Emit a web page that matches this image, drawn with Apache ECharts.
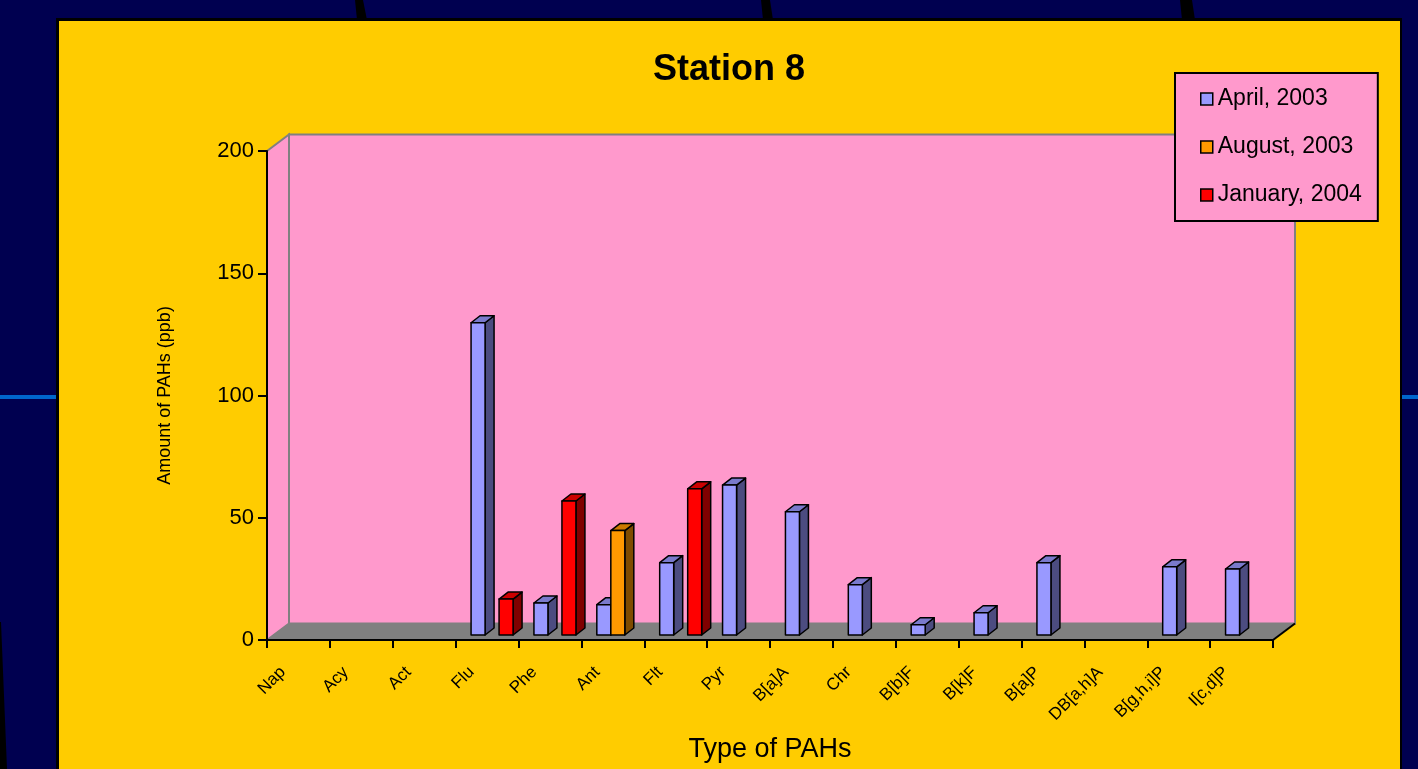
<!DOCTYPE html>
<html>
<head>
<meta charset="utf-8">
<title>Station 8</title>
<script src="https://cdn.jsdelivr.net/npm/echarts@6/dist/echarts.min.js"></script>
<style>
  html, body { margin: 0; padding: 0; background: #000050; }
  #chart { width: 1418px; height: 769px; }
</style>
</head>
<body>
<div id="chart"></div>
<script>
// PAH types on the category axis
const categories = ['Nap', 'Acy', 'Act', 'Flu', 'Phe', 'Ant', 'Flt', 'Pyr', 'B[a]A', 'Chr',
  'B[b]F', 'B[k]F', 'B[a]P', 'DB[a,h]A', 'B[g,h,i]P', 'I[c,d]P'];

// Amount of PAHs (ppb) per sampling campaign; null = not detected
const april2003 = [null, null, null, 127.7, 13.1, 12.4, 29.6, 61.3, 50.4, 20.6, 4.2, 9.1, 29.6, null, 27.9, 27.0];
const august2003 = [null, null, null, null, null, 42.7, null, null, null, null, null, null, null, null, null, null];
const january2004 = [null, null, null, 14.7, 54.8, null, 59.8, null, null, null, null, null, null, null, null, null];

const yTicks = { min: 0, max: 200, interval: 50 };

const FONT = "'Liberation Sans', Arial, sans-serif";

// depth of the back wall relative to the front plane
const WALL_DX = 22, WALL_DY = -16.5;
// bar geometry
const BAR_W = 14, BAR_DX = 9, BAR_DY = -7, BAR_BASE_SHIFT = -5;
const SLOT_OFFSETS = [-9, 5, 19];

const seriesDefs = [
  { name: 'April, 2003', values: april2003, front: '#9999FF', side: '#4C4C80', top: '#7A7ACC' },
  { name: 'August, 2003', values: august2003, front: '#FF9900', side: '#7F4C00', top: '#CC7A00' },
  { name: 'January, 2004', values: january2004, front: '#FF0000', side: '#800000', top: '#CC0000' }
];

function toPairs(arr) {
  const out = [];
  arr.forEach((v, i) => { if (v !== null) out.push([i, v]); });
  return out;
}

function renderWalls(params, api) {
  const cs = params.coordSys;
  const l = cs.x, r = cs.x + cs.width, t = cs.y, b = cs.y + cs.height;
  const dx = WALL_DX, dy = WALL_DY;
  return {
    type: 'group',
    children: [
      { type: 'rect', shape: { x: l + dx, y: t + dy, width: r - l, height: b - t },
        style: { fill: '#FF99CC', stroke: '#808080', lineWidth: 2 } },
      { type: 'polygon', shape: { points: [[l, t], [l + dx, t + dy], [l + dx, b + dy], [l, b]] },
        style: { fill: '#FF99CC', stroke: '#808080', lineWidth: 2 } },
      { type: 'polygon', shape: { points: [[l, b], [l + dx, b + dy], [r + dx, b + dy], [r, b]] },
        style: { fill: '#808080' } },
      { type: 'line', shape: { x1: r, y1: b, x2: r + dx, y2: b + dy },
        style: { stroke: '#000', lineWidth: 2 } }
    ]
  };
}

function makeBarRenderer(idx) {
  const def = seriesDefs[idx];
  return function (params, api) {
    const cat = api.value(0), val = api.value(1);
    if (isNaN(val)) return null;
    const pTop = api.coord([cat, val]);
    const pBot = api.coord([cat, 0]);
    const xc = pTop[0] + SLOT_OFFSETS[idx];
    const xl = xc - BAR_W / 2, xr = xc + BAR_W / 2;
    const yt = pTop[1] + BAR_BASE_SHIFT, yb = pBot[1] + BAR_BASE_SHIFT;
    const line = { stroke: '#000', lineWidth: 1.5, lineJoin: 'round' };
    return {
      type: 'group',
      children: [
        { type: 'polygon', shape: { points: [[xr, yt], [xr + BAR_DX, yt + BAR_DY], [xr + BAR_DX, yb + BAR_DY], [xr, yb]] },
          style: Object.assign({ fill: def.side }, line) },
        { type: 'polygon', shape: { points: [[xl, yt], [xl + BAR_DX, yt + BAR_DY], [xr + BAR_DX, yt + BAR_DY], [xr, yt]] },
          style: Object.assign({ fill: def.top }, line) },
        { type: 'rect', shape: { x: xl, y: yt, width: BAR_W, height: yb - yt },
          style: Object.assign({ fill: def.front }, line) }
      ]
    };
  };
}

const chart = echarts.init(document.getElementById('chart'), null, { renderer: 'canvas' });

const option = {
  backgroundColor: '#000050',
  animation: false,
  textStyle: { fontFamily: FONT },
  graphic: {
    elements: [
      // slide decorations
      { type: 'rect', z: -10, shape: { x: 0, y: 395, width: 1418, height: 4 }, style: { fill: '#0066CC' } },
      { type: 'polygon', z: -10, shape: { points: [[355, 0], [363, 0], [367, 20], [357, 20]] }, style: { fill: '#000' } },
      { type: 'polygon', z: -10, shape: { points: [[761, 0], [770, 0], [773, 20], [763, 20]] }, style: { fill: '#000' } },
      { type: 'polygon', z: -10, shape: { points: [[1180, 0], [1192, 0], [1195, 20], [1182, 20]] }, style: { fill: '#000' } },
      { type: 'polygon', z: -10, shape: { points: [[0, 622], [1, 622], [7, 769], [0, 769]] }, style: { fill: '#000' } },
      // chart panel
      { type: 'rect', z: -9, shape: { x: 56, y: 18, width: 1346, height: 760 }, style: { fill: '#000' } },
      { type: 'rect', z: -8, shape: { x: 59, y: 21, width: 1341, height: 760 }, style: { fill: '#FFCC00' } }
    ]
  },
  title: {
    text: 'Station 8',
    left: 653,
    top: 52,
    padding: 0,
    textStyle: { fontSize: 36, fontWeight: 'bold', color: '#000', fontFamily: FONT }
  },
  legend: {
    orient: 'vertical',
    left: 1175,
    top: 73,
    padding: [14, 16, 14, 25],
    itemGap: 24,
    itemWidth: 12,
    itemHeight: 12,
    icon: 'rect',
    backgroundColor: '#FF99CC',
    borderColor: '#000',
    borderWidth: 2,
    borderRadius: 0,
    itemStyle: { borderColor: '#000', borderWidth: 1.5 },
    textStyle: { fontSize: 23, color: '#000', lineHeight: 24, fontFamily: FONT },
    data: seriesDefs.map(d => d.name)
  },
  grid: { left: 267, top: 151, width: 1006, height: 489 },
  xAxis: {
    type: 'category',
    data: categories,
    z: 10,
    name: 'Type of PAHs',
    nameLocation: 'middle',
    nameGap: 96,
    nameTextStyle: { fontSize: 27, color: '#000', fontFamily: FONT },
    axisLine: { lineStyle: { color: '#000', width: 2 } },
    axisTick: { show: true, length: 8, interval: 0, lineStyle: { color: '#000', width: 2 } },
    axisLabel: { interval: 0, rotate: 45, fontSize: 17, color: '#000', margin: 14, padding: [0, 22, 0, 0], fontFamily: FONT },
    splitLine: { show: false }
  },
  yAxis: {
    type: 'value',
    min: yTicks.min,
    max: yTicks.max,
    interval: yTicks.interval,
    z: 10,
    name: 'Amount of PAHs (ppb)',
    nameLocation: 'middle',
    nameGap: 93,
    nameTextStyle: { fontSize: 18, color: '#000', fontFamily: FONT },
    axisLine: { show: true, lineStyle: { color: '#000', width: 2 } },
    axisTick: { show: true, length: 9, lineStyle: { color: '#000', width: 2 } },
    axisLabel: { fontSize: 22, color: '#000', margin: 13, fontFamily: FONT },
    splitLine: { show: false }
  },
  series: [
    {
      type: 'custom',
      z: 1,
      silent: true,
      renderItem: renderWalls,
      data: [[0, 0]]
    }
  ].concat(seriesDefs.map((d, i) => ({
    type: 'custom',
    name: d.name,
    z: 2 + i,
    itemStyle: { color: d.front },
    renderItem: makeBarRenderer(i),
    encode: { x: 0, y: 1 },
    data: toPairs(d.values)
  })))
};

chart.setOption(option);
</script>
</body>
</html>
